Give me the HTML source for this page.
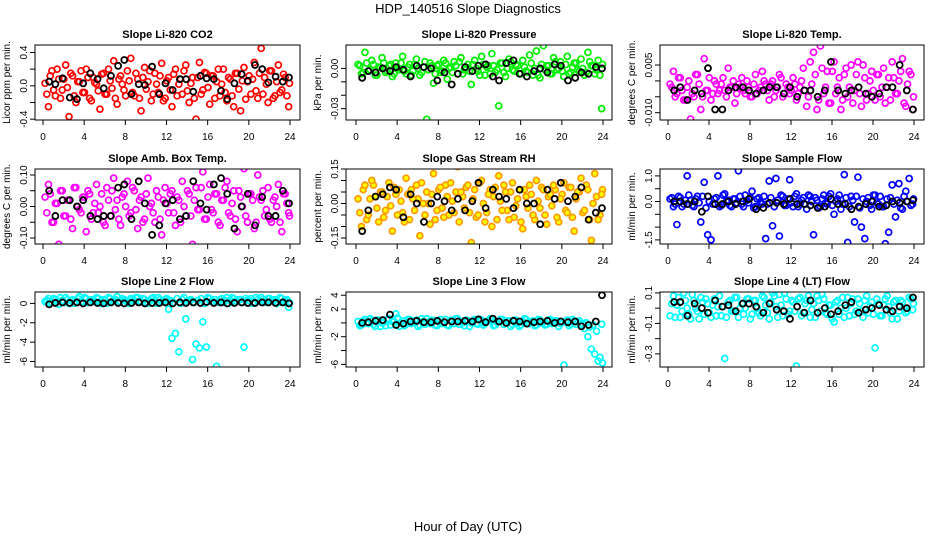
<!DOCTYPE html>
<html><head><meta charset="utf-8">
<style>
html,body{margin:0;padding:0;background:#fff;}
svg{display:block;font-family:"Liberation Sans",Arial,sans-serif;}
</style></head>
<body>
<svg id="chart" width="936" height="540" viewBox="0 0 936 540">
<text x="468" y="13" text-anchor="middle" font-size="13">HDP_140516  Slope Diagnostics</text>
<text x="468" y="531" text-anchor="middle" font-size="13">Hour of Day (UTC)</text>
</svg>
<script>
const sampleHours = [
0.2,0.53,0.87,1.2,1.53,1.87,2.2,2.53,2.87,3.2,3.53,3.87,
4.2,4.53,4.87,5.2,5.53,5.87,6.2,6.53,6.87,7.2,7.53,7.87,
8.2,8.53,8.87,9.2,9.53,9.87,10.2,10.53,10.87,11.2,11.53,11.87,
12.2,12.53,12.87,13.2,13.53,13.87,14.2,14.53,14.87,15.2,15.53,15.87,
16.2,16.53,16.87,17.2,17.53,17.87,18.2,18.53,18.87,19.2,19.53,19.87,
20.2,20.53,20.87,21.2,21.53,21.87,22.2,22.53,22.87,23.2,23.53,23.87];
const sampleHours2 = [
0.37,0.7,1.03,1.37,1.7,2.03,2.37,2.7,3.03,3.37,3.7,4.03,
4.37,4.7,5.03,5.37,5.7,6.03,6.37,6.7,7.03,7.37,7.7,8.03,
8.37,8.7,9.03,9.37,9.7,10.03,10.37,10.7,11.03,11.37,11.7,12.03,
12.37,12.7,13.03,13.37,13.7,14.03,14.37,14.7,15.03,15.37,15.7,16.03,
16.37,16.7,17.03,17.37,17.7,18.03,18.37,18.7,19.03,19.37,19.7,20.03,
20.37,20.7,21.03,21.37,21.7,22.03,22.37,22.7,23.03,23.37,23.7,23.95];
const calHours = [
0.6,1.2,1.9,2.6,3.3,3.9,4.6,5.3,5.9,6.6,7.3,7.9,
8.6,9.3,9.9,10.6,11.3,11.9,12.6,13.3,13.9,14.6,15.3,15.9,
16.6,17.3,17.9,18.6,19.3,19.9,20.6,21.3,21.9,22.6,23.3,23.9];
const xTicks = [0,4,8,12,16,20,24];

const co2Vals = [0.03,-0.25,0.18,-0.12,0.08,-0.05,0.25,-0.37,0.12,-0.2,0.05,-0.08,
0.2,-0.15,0.1,0.02,-0.28,0.15,-0.1,0.06,0.3,-0.22,0.12,-0.05,
0.18,0.33,-0.12,0.08,-0.3,0.22,0.05,-0.18,0.15,-0.08,0.27,-0.15,
0.1,-0.25,0.2,0.02,-0.1,0.25,-0.2,0.1,-0.4,0.28,-0.05,0.15,
-0.22,0.12,0.05,-0.12,0.2,-0.18,0.08,-0.25,0.15,-0.3,0.22,0.05,
-0.1,0.28,-0.15,0.45,0.1,-0.2,0.18,-0.12,0.25,-0.05,0.1,-0.25];
const co2Vals2 = [-0.1,0.12,-0.05,0.2,-0.15,0.08,-0.02,0.15,-0.12,0.05,0.18,-0.08,
0.1,-0.18,0.04,-0.06,0.14,-0.1,0.2,-0.03,-0.15,0.08,0.02,-0.12,
0.06,-0.08,0.15,-0.15,0.1,-0.04,0.18,-0.1,0.02,0.12,-0.18,0.06,
-0.05,0.14,-0.12,0.08,0.18,-0.06,0.03,-0.15,0.1,-0.1,0.16,-0.02,
0.12,-0.15,0.2,0.02,-0.08,0.1,-0.12,0.15,-0.04,0.06,-0.16,0.12,
0.08,-0.06,0.15,-0.1,0.02,0.18,-0.15,0.05,-0.08,0.14,-0.12,0.03];
const co2Cal = [0.05,0.02,0.09,-0.14,-0.16,0.03,0.15,0.08,-0.03,0.12,0.24,0.31,
-0.1,0.02,0.01,0.23,-0.1,0.03,-0.05,0.08,0.08,-0.07,0.12,0.09,
0.08,-0.06,-0.16,0.03,0.14,0.06,0.25,0.2,0.04,0.11,0.05,0.1];

const presVals = [0.003,-0.004,0.012,-0.002,0.006,-0.005,0.001,0.008,-0.003,0.002,-0.006,0.004,
-0.001,0.009,-0.004,0.003,-0.002,0.007,-0.005,0.001,-0.038,0.004,-0.011,0.002,
-0.003,0.006,-0.008,0.001,0.005,-0.004,0.008,-0.001,0.003,-0.012,0.006,-0.002,
0.009,-0.005,0.002,0.011,-0.003,-0.028,0.004,-0.006,0.007,-0.001,0.003,-0.004,
0.006,-0.002,0.01,-0.005,0.013,-0.007,0.017,0.002,-0.004,0.008,-0.001,0.005,
-0.006,0.009,-0.003,0.004,-0.001,0.007,-0.005,0.012,0.002,-0.004,0.006,-0.030];
const presVals2 = [0.002,-0.003,0.004,-0.001,0.003,-0.005,0.001,0.004,-0.002,0.003,-0.004,0.0,
0.004,-0.002,0.001,-0.005,0.003,0.0,-0.003,0.005,-0.001,0.002,-0.004,0.003,
-0.002,0.004,0.0,-0.003,0.002,0.005,-0.004,0.001,-0.002,0.003,0.0,-0.005,
0.003,0.001,-0.004,0.002,-0.001,0.004,-0.003,0.0,0.005,-0.002,0.002,-0.004,
0.001,-0.003,0.004,0.0,-0.005,0.003,-0.001,0.002,-0.004,0.005,0.0,-0.002,
0.003,-0.004,0.001,0.004,-0.002,0.0,-0.003,0.005,0.002,-0.001,-0.005,0.003];
const presCal = [-0.007,-0.002,-0.003,0.0,-0.002,0.001,-0.001,-0.006,0.002,0.001,0.0,-0.009,
-0.003,-0.012,-0.004,0.001,-0.002,0.002,0.003,-0.006,-0.009,0.004,0.006,-0.004,
-0.006,-0.002,0.0,-0.003,0.003,0.002,-0.009,-0.007,-0.003,-0.004,0.001,0.0];

const tempVals = [-0.001,0.003,-0.004,0.001,-0.006,-0.002,-0.012,-0.005,0.002,-0.009,0.007,-0.003,
-0.006,0.0,-0.004,-0.001,-0.003,0.004,-0.002,-0.007,-0.001,0.001,-0.004,-0.002,
-0.005,0.002,-0.003,0.003,-0.001,-0.006,0.0,-0.003,0.002,-0.005,-0.001,-0.004,
0.001,-0.006,-0.002,0.004,-0.008,0.006,0.009,-0.009,0.011,-0.004,0.003,-0.007,
0.006,-0.002,-0.009,0.002,-0.005,0.005,-0.003,0.006,-0.008,0.001,-0.004,0.003,
-0.006,0.002,-0.002,-0.007,0.001,0.006,-0.004,0.0,0.007,-0.008,0.003,-0.009];
const tempVals2 = [-0.002,-0.005,0.001,-0.003,-0.006,0.0,-0.004,0.002,-0.001,-0.005,-0.003,0.001,
-0.004,-0.001,-0.003,0.001,-0.005,-0.002,0.0,-0.004,-0.002,-0.003,0.0,-0.005,
-0.001,-0.004,-0.002,0.0,-0.003,-0.001,-0.005,-0.002,0.001,-0.004,-0.002,-0.003,
-0.001,-0.004,0.0,-0.003,-0.005,-0.001,0.002,-0.006,0.004,-0.002,-0.007,0.003,
-0.004,0.001,-0.006,0.004,-0.002,-0.007,0.002,-0.004,0.005,-0.006,0.0,-0.003,
0.002,-0.005,0.004,-0.002,-0.006,0.001,-0.004,0.003,-0.007,-0.001,0.002,-0.005];
const tempCal = [-0.003,-0.002,-0.006,-0.003,-0.004,0.004,-0.009,-0.009,-0.003,-0.002,-0.002,-0.003,
-0.004,-0.003,-0.002,-0.002,-0.004,-0.002,-0.005,-0.003,-0.003,-0.005,-0.003,0.006,
-0.003,-0.004,-0.003,-0.002,-0.004,-0.005,-0.004,-0.002,-0.002,0.005,-0.003,-0.009];

const boxVals = [0.03,0.07,-0.05,0.01,-0.12,0.05,-0.03,0.02,-0.07,0.06,-0.01,0.03,
-0.08,0.04,-0.02,0.07,0.0,-0.05,0.06,-0.03,0.09,0.02,-0.06,0.04,
0.08,-0.02,0.05,-0.07,0.03,-0.04,0.09,0.01,-0.05,0.03,-0.09,0.06,
-0.02,0.05,-0.06,0.02,0.08,-0.03,0.04,-0.12,0.06,-0.01,0.11,-0.04,
0.07,-0.02,0.04,-0.06,0.02,0.08,-0.03,0.05,-0.08,0.03,0.12,-0.05,
0.04,-0.07,0.1,0.02,-0.03,0.06,-0.05,0.03,0.07,-0.08,0.04,-0.02];
const boxVals2 = [-0.02,0.04,-0.05,0.01,0.05,-0.03,0.02,-0.04,0.06,0.0,-0.02,0.03,
0.05,-0.04,0.01,-0.02,0.04,-0.06,0.02,0.05,-0.01,-0.04,0.03,0.0,
-0.03,0.06,-0.01,0.02,-0.05,0.04,0.0,-0.02,0.05,-0.04,0.02,0.01,
0.04,-0.02,0.03,-0.05,0.0,0.05,-0.03,0.02,-0.01,0.06,-0.04,0.03,
-0.01,0.04,-0.05,0.02,0.06,-0.02,0.01,-0.04,0.05,0.0,-0.03,0.04,
0.02,-0.05,0.03,0.05,-0.01,-0.04,0.02,0.0,-0.05,0.04,0.01,-0.03];
const boxCal = [0.05,-0.03,0.02,0.02,0.0,0.02,-0.03,-0.04,-0.03,-0.03,0.06,0.07,
-0.04,0.08,0.01,-0.09,-0.06,0.01,0.02,-0.04,-0.03,0.08,0.01,-0.01,
0.07,0.09,0.04,-0.07,0.0,0.04,-0.06,0.03,-0.03,-0.03,0.05,0.01];

const rhVals = [0.02,-0.1,0.08,-0.05,0.1,0.03,-0.08,0.05,-0.03,0.09,-0.12,0.04,
0.06,-0.04,0.11,-0.07,0.02,0.08,-0.14,0.0,0.05,-0.09,0.13,-0.03,
0.07,-0.06,0.03,0.09,-0.04,0.16,0.05,-0.02,0.08,-0.17,0.06,-0.05,
0.1,-0.08,0.04,-0.1,0.07,0.12,-0.03,0.05,-0.07,0.09,-0.01,0.06,
-0.11,0.03,0.08,-0.05,0.1,-0.02,0.06,-0.09,0.04,0.08,-0.06,0.02,
0.09,-0.04,0.07,-0.12,0.05,0.11,-0.03,0.06,-0.16,0.13,-0.07,0.04];
const rhVals2 = [-0.04,0.06,-0.07,0.02,0.08,-0.02,0.05,-0.06,0.03,-0.01,0.07,-0.05,
0.01,-0.08,0.04,0.06,-0.03,0.02,0.09,-0.05,0.0,0.04,-0.07,0.06,
-0.02,0.08,-0.05,0.01,0.05,-0.08,0.03,0.07,-0.04,0.02,-0.06,0.09,
0.0,-0.04,0.06,0.03,-0.07,0.01,0.08,-0.03,0.05,-0.06,0.02,-0.08,
0.06,-0.02,0.04,-0.07,0.01,0.07,-0.05,0.03,-0.01,0.06,-0.08,0.04,
-0.03,0.07,-0.06,0.02,0.05,-0.04,0.08,-0.07,0.0,0.03,-0.05,0.06];
const rhCal = [-0.12,-0.03,0.03,0.04,0.07,0.06,-0.06,0.04,0.0,-0.08,0.0,0.03,
0.01,-0.03,0.02,-0.03,0.01,0.09,-0.02,0.06,0.03,0.02,-0.02,0.06,
0.0,0.0,-0.09,0.06,0.02,0.09,0.01,0.03,0.07,-0.07,-0.04,-0.02];

const flowVals = [0.1,-0.2,-0.9,0.15,-0.1,1.0,0.05,-0.2,0.2,-0.8,0.75,-1.3,
-1.5,0.1,1.0,-0.15,0.3,0.05,-0.2,0.1,1.2,-0.1,0.25,-0.05,
0.4,-0.2,0.15,-0.1,-1.45,0.8,-0.95,0.9,-1.35,0.2,-0.15,0.85,
-0.2,0.3,-0.1,0.15,-0.3,0.2,-1.3,0.05,-0.2,0.25,-0.1,0.3,
-0.5,0.1,-0.3,1.05,-1.6,0.2,-0.8,0.95,-1.0,-1.45,0.15,-0.3,
0.25,-0.1,-0.2,-1.65,-1.2,0.65,-0.6,0.7,-0.3,0.4,0.9,-0.1];
const flowVals2 = [0.15,-0.1,0.2,-0.2,0.05,0.25,-0.15,0.1,-0.05,0.2,-0.25,0.0,
-0.1,0.15,-0.2,0.25,0.0,-0.15,0.1,-0.05,0.2,-0.2,0.05,0.15,
-0.25,0.1,0.0,0.2,-0.1,0.15,-0.2,0.05,0.25,-0.15,0.1,-0.05,
0.2,-0.2,0.05,-0.1,0.25,0.0,0.15,-0.25,0.1,-0.05,0.2,-0.15,
0.0,0.25,-0.1,0.15,-0.2,0.05,0.2,-0.25,0.1,0.0,-0.15,0.25,
-0.05,0.2,-0.2,0.1,0.15,-0.1,0.05,-0.25,0.2,0.0,-0.15,0.1];
const flowCal = [0.0,0.0,-0.1,0.0,-0.4,0.2,-0.1,-0.1,0.0,-0.1,0.0,0.1,
-0.3,-0.25,-0.05,-0.05,-0.1,0.1,-0.1,-0.1,-0.15,-0.25,-0.2,0.1,
-0.1,-0.1,-0.3,-0.2,-0.1,0.0,-0.2,-0.15,0.0,-0.05,0.0,0.05];

const line2Vals = [0.2,0.5,0.1,0.4,-0.1,0.3,0.6,0.0,0.4,0.2,0.7,0.1,
0.5,0.2,0.3,0.6,0.1,0.4,0.0,0.5,0.3,0.7,0.2,0.4,
0.1,0.5,0.3,0.6,0.2,0.4,0.0,0.5,0.3,0.6,0.2,0.4,
-0.6,-3.6,-3.1,-5.0,0.4,-1.6,0.3,-5.8,-4.2,-4.6,-1.9,-4.5,
0.5,0.2,-6.5,0.4,0.1,0.6,0.3,0.5,0.2,0.4,-4.5,0.3,
0.5,0.1,0.4,0.6,0.2,0.5,0.3,0.4,0.1,0.5,0.3,-0.4];
const line2Vals2 = [0.3,0.0,0.5,0.2,0.6,0.1,0.4,0.3,0.0,0.5,0.2,0.6,
0.1,0.4,0.2,0.5,0.0,0.3,0.6,0.2,0.4,0.1,0.5,0.3,
0.0,0.4,0.6,0.2,0.5,0.1,0.3,0.6,0.0,0.4,0.2,0.5,
0.3,0.1,0.5,0.0,0.6,0.2,0.4,0.1,0.3,0.5,0.0,0.6,
0.2,0.4,0.1,0.5,0.3,0.0,0.6,0.2,0.4,0.1,0.5,0.3,
0.0,0.6,0.2,0.4,0.1,0.5,0.3,0.0,0.6,0.2,0.4,0.1];
const line2Cal = [-0.1,0.05,0.1,0.05,0.1,0.0,0.1,0.05,0.0,0.1,0.05,0.0,
0.05,0.1,0.0,0.05,0.05,0.1,0.0,0.1,0.05,0.1,0.05,0.15,
0.05,0.1,0.0,0.05,0.1,0.05,0.05,0.1,0.1,0.05,0.1,0.0];

const line3Vals = [0.2,-0.3,0.5,-0.1,0.3,-0.5,0.4,0.0,-0.4,0.6,0.2,1.3,
-0.5,0.3,-0.2,0.5,0.0,0.4,-0.3,0.2,0.6,-0.1,0.3,-0.4,
0.5,0.1,-0.3,0.4,-0.1,0.6,0.2,-0.4,0.3,0.0,0.5,-0.2,
0.4,-0.1,0.3,0.6,-0.3,0.2,0.5,0.0,0.3,-0.2,0.4,-0.5,
0.2,0.5,-0.1,0.3,-0.3,0.4,0.1,-0.2,0.5,0.0,0.3,-0.1,
-6.1,0.4,-0.2,0.3,0.1,-0.3,-0.8,-2.0,-3.8,-4.5,-5.5,-0.2];
const line3Vals2 = [-0.4,0.3,0.0,0.6,-0.2,0.4,-0.5,0.1,0.5,-0.3,0.2,0.7,
0.0,-0.4,0.5,-0.1,0.3,-0.5,0.6,-0.2,0.1,0.4,-0.3,0.2,
-0.1,0.5,-0.4,0.2,0.6,-0.2,0.0,0.4,-0.5,0.3,-0.1,0.5,
-0.3,0.2,0.6,-0.4,0.1,0.5,-0.2,0.3,-0.5,0.4,0.0,-0.3,
0.6,-0.1,0.2,-0.4,0.5,0.0,-0.3,0.4,-0.1,0.3,-0.5,0.2,
0.1,-0.4,0.5,-0.2,0.3,-0.1,0.0,-0.6,-0.3,-1.2,-5.0,-5.8];
const line3Cal = [0.0,0.1,0.3,0.4,1.2,-0.3,-0.1,0.2,0.3,0.1,0.1,0.3,
0.1,0.2,0.2,0.3,0.2,0.5,0.1,0.6,0.2,0.0,0.3,0.2,
-0.1,0.1,0.2,0.3,0.0,0.2,0.1,0.2,-0.5,-0.3,0.2,4.0];

const line4Vals = [-0.05,0.08,0.02,-0.06,0.1,0.0,-0.07,0.05,-0.02,0.07,-0.04,0.03,
-0.06,0.06,0.01,-0.05,-0.33,0.04,-0.02,0.07,-0.06,0.03,0.0,0.06,
-0.04,0.05,-0.03,0.08,0.02,-0.07,0.1,0.01,0.09,-0.05,0.06,-0.02,
0.04,-0.38,0.07,-0.03,0.05,-0.06,0.03,0.08,-0.02,0.06,-0.04,0.02,
-0.09,0.05,0.0,-0.06,0.07,0.03,-0.04,0.06,-0.02,0.05,-0.03,0.04,
-0.26,0.03,-0.05,0.06,0.01,-0.07,0.05,-0.02,0.04,-0.03,0.07,-0.01];
const line4Vals2 = [0.03,-0.06,0.07,-0.02,0.05,-0.04,0.09,0.0,-0.07,0.04,0.06,-0.03,
0.02,-0.05,0.08,0.01,-0.06,0.05,-0.02,0.07,0.0,-0.04,0.06,-0.07,
0.05,0.0,-0.05,0.07,-0.03,0.04,0.08,-0.06,0.02,0.1,-0.04,0.05,
-0.02,0.06,-0.05,0.03,0.08,-0.01,-0.06,0.05,0.09,-0.03,0.02,-0.07,
0.04,-0.04,0.07,0.0,-0.05,0.06,-0.02,0.03,-0.06,0.08,0.01,-0.04,
0.06,-0.05,0.02,0.08,-0.03,0.04,-0.07,0.05,0.0,-0.02,0.06,0.03];
const line4Cal = [0.04,0.04,-0.05,0.03,0.0,-0.03,0.05,0.01,0.02,-0.02,0.03,0.03,
0.01,-0.03,0.03,-0.01,-0.02,-0.07,0.01,-0.03,0.05,-0.03,0.0,-0.04,
-0.02,0.02,0.04,-0.03,-0.01,0.0,0.02,-0.01,-0.02,0.01,0.0,0.07];

const panelTitles = ["Slope Li-820 CO2","Slope Li-820 Pressure","Slope Li-820 Temp.","Slope Amb. Box Temp.","Slope Gas Stream RH","Slope Sample Flow","Slope Line 2 Flow","Slope Line 3 Flow","Slope Line 4 (LT) Flow"];
const yTitles = ["Licor ppm per min.","kPa per min.","degrees C per min.","degrees C per min.","percent per min.","ml/min per min.","ml/min per min.","ml/min per min.","ml/min per min."];
const yTickVals = [[-0.4,-0.2,0,0.2,0.4],[-0.03,-0.02,-0.01,0],[-0.01,-0.005,0,0.005],[-0.1,-0.05,0,0.05,0.1],[-0.15,-0.1,-0.05,0,0.05,0.1,0.15],[-1.5,-1,-0.5,0,0.5,1],[-6,-4,-2,0],[-6,-4,-2,0,2,4],[-0.3,-0.2,-0.1,0,0.1]];
const yTickLabels = [["-0.4","","0.0","","0.4"],["-0.03","","","0.00"],["-0.010","","","0.005"],["-0.10","","0.00","","0.10"],["-0.15","","","0.00","","","0.15"],["-1.5","","","0.0","","1.0"],["-6","-4","-2","0"],["-6","","-2","","2","4"],["-0.3","","-0.1","","0.1"]];
const yRanges = [[-0.41,0.49],[-0.0385,0.0175],[-0.0123,0.0113],[-0.119,0.119],[-0.176,0.15],[-1.66,1.27],[-6.57,1.18],[-6.38,4.47],[-0.386,0.106]];
const seriesVals = [co2Vals,presVals,tempVals,boxVals,rhVals,flowVals,line2Vals,line3Vals,line4Vals];
const seriesVals2 = [co2Vals2,presVals2,tempVals2,boxVals2,rhVals2,flowVals2,line2Vals2,line3Vals2,line4Vals2];
const calVals = [co2Cal,presCal,tempCal,boxCal,rhCal,flowCal,line2Cal,line3Cal,line4Cal];
const seriesColors = ["#ff0000","#00ee00","#ff00ff","#ff00ff","#ff9900","#0000ff","#00ffff","#00ffff","#00ffff"];

const NS = "http://www.w3.org/2000/svg";
const svg = document.getElementById('chart');
const colBox = [[35,300],[346,612],[660,924]];
const colX = [[43,290],[356,603],[668,914]];
const rowBox = [[45,120],[169,244],[292,367]];
function mk(tag, attrs, parent){const e=document.createElementNS(NS,tag);for(const k in attrs)e.setAttribute(k,attrs[k]);(parent||svg).appendChild(e);return e;}

for(let p=0;p<9;p++){
  const c=p%3, r=Math.floor(p/3);
  const [bl,br]=colBox[c], [bt,bb]=rowBox[r], [x0,x24]=colX[c];
  const [ymin,ymax]=yRanges[p];
  const xs=h=>x0+(x24-x0)*h/24;
  const ys=v=>bb-(v-ymin)/(ymax-ymin)*(bb-bt);
  const g=mk('g',{});
  
  
  const t=mk('text',{x:(bl+br)/2,y:bt-7,'text-anchor':'middle','font-size':11,'font-weight':'bold'},g);
  t.textContent=panelTitles[p];
  
  
  const yt=mk('text',{x:0,y:0,'text-anchor':'middle','font-size':10,transform:`translate(${bl-25},${(bt+bb)/2}) rotate(-90)`},g);
  yt.textContent=yTitles[p];
  
  
  const xa=mk('g',{},g);
  
  
  mk('line',{x1:xs(xTicks[0]),x2:xs(xTicks[xTicks.length-1]),y1:bb,y2:bb,stroke:'#000'},xa);
  xTicks.forEach(h=>{
    mk('line',{x1:xs(h),x2:xs(h),y1:bb,y2:bb+5,stroke:'#000'},xa);
    const l=mk('text',{x:xs(h),y:bb+20,'text-anchor':'middle','font-size':10},xa);
    l.textContent=h;
    
    
  });
  const ya=mk('g',{},g);
  
  
  const tv=yTickVals[p];
  mk('line',{x1:bl,x2:bl,y1:ys(tv[0]),y2:ys(tv[tv.length-1]),stroke:'#000'},ya);
  tv.forEach((v,i)=>{
    mk('line',{x1:bl-5,x2:bl,y1:ys(v),y2:ys(v),stroke:'#000'},ya);
    if(yTickLabels[p][i]){
      const l=mk('text',{x:0,y:0,'text-anchor':'middle','font-size':10,transform:`translate(${bl-8},${ys(v)}) rotate(-90)`},ya);
      l.textContent=yTickLabels[p][i];
      
      
    }
  });
  const clip=mk('clipPath',{id:'clip'+p},g);
  mk('rect',{x:bl,y:bt,width:br-bl,height:bb-bt},clip);
  const pts=mk('g',{'clip-path':`url(#clip${p})`},g);
  const fillC = p===4?'#ffff00':'none';
  seriesVals2[p].forEach((v,i)=>{
    const ci=mk('circle',{cx:xs(sampleHours2[i]),cy:ys(v),r:3,fill:fillC,stroke:seriesColors[p],'stroke-width':1.7},pts);
    
    
  });
  seriesVals[p].forEach((v,i)=>{
    const ci=mk('circle',{cx:xs(sampleHours[i]),cy:ys(v),r:3,fill:fillC,stroke:seriesColors[p],'stroke-width':1.7},pts);
    
    
  });
  calVals[p].forEach((v,i)=>{
    const ci=mk('circle',{cx:xs(calHours[i]),cy:ys(v),r:3,fill:'none',stroke:'#000','stroke-width':1.8},pts);
    
    
  });
  const box=mk('rect',{x:bl,y:bt,width:br-bl,height:bb-bt,fill:'none',stroke:'#000'},g);
  
  
}
</script>
</body></html>
